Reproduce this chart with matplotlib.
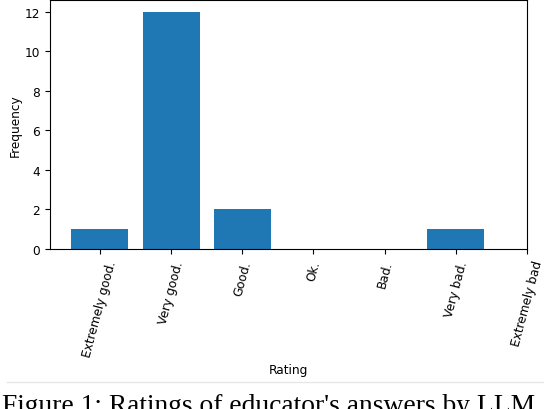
import matplotlib
matplotlib.use("Agg")
import matplotlib.pyplot as plt
from matplotlib.lines import Line2D

categories = ["Extremely good.", "Very good.", "Good.", "Ok.", "Bad.", "Very bad.", "Extremely bad"]
frequencies = [1, 12, 2, 0, 0, 1, 0]
y_ticks = [0, 2, 4, 6, 8, 10, 12]

W, H = 544, 410
fig = plt.figure(figsize=(W / 100, H / 100), dpi=100)
ax = fig.add_axes([50 / W, (H - 250) / H, (527 - 50) / W, 249 / H])

x = list(range(len(categories)))
ax.bar(x[:6], frequencies[:6], width=0.8, color="#1f77b4")
ax.set_xlim(-0.70, 6.0)
ax.set_ylim(0, 12.6)
ax.set_xticks(x)
ax.set_xticklabels(categories, rotation=75, fontsize=8.7)
ax.set_yticks(y_ticks)
ax.tick_params(axis="y", labelsize=8.7)
ax.set_xlabel("Rating", fontsize=8.7)
ax.set_ylabel("Frequency", fontsize=8.7, labelpad=2)

fig.add_artist(Line2D([7 / W, 1.0], [(H - 383) / H] * 2, color="#e6e6e6", lw=1))
fig.text(2 / W, (H - 413) / H, "Figure 1: Ratings of educator's answers by LLM",
         family="Liberation Serif", fontsize=19.8, ha="left", va="baseline")

fig.savefig("out.png", dpi=100)
